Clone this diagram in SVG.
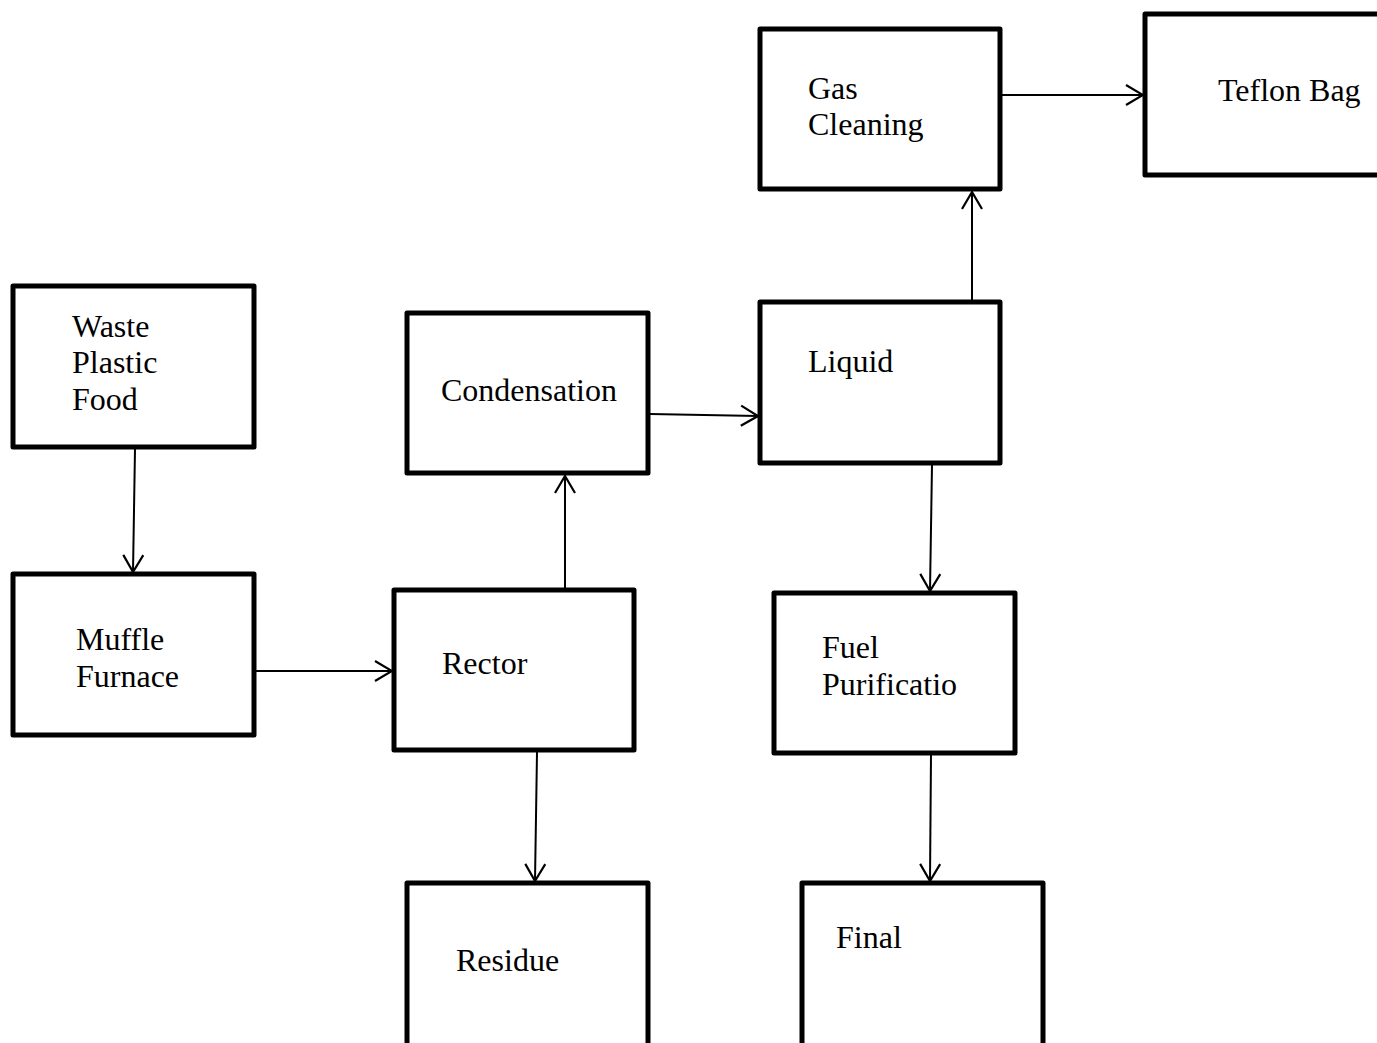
<svg xmlns="http://www.w3.org/2000/svg" width="1377" height="1043" viewBox="0 0 1377 1043">
<defs>
<style>
.box{fill:#fff;stroke:#000;stroke-width:5;stroke-linejoin:round}
.lbl{font-family:'Liberation Serif','Times New Roman',Times,'DejaVu Serif',serif;font-size:32px;fill:#000}
.cn{stroke:#000;stroke-width:2;fill:none;marker-end:url(#ah)}
</style>
<marker id="ah" markerUnits="userSpaceOnUse" markerWidth="24" markerHeight="24" viewBox="-22 -12 24 24" refX="0" refY="0" orient="auto">
<path d="M-17,-10 L0,0 L-17,10" fill="none" stroke="#000" stroke-width="2.2"/>
</marker>
</defs>
<rect width="1377" height="1043" fill="#fff"/>
<g id="connectors">
<line class="cn" x1="135" y1="449" x2="133" y2="572"/>
<line class="cn" x1="256" y1="671" x2="392" y2="671"/>
<line class="cn" x1="565" y1="588" x2="565" y2="476"/>
<line class="cn" x1="650" y1="414" x2="758" y2="416"/>
<line class="cn" x1="972" y1="300" x2="972" y2="192"/>
<line class="cn" x1="1002" y1="95" x2="1143" y2="95"/>
<line class="cn" x1="932" y1="465" x2="930" y2="591"/>
<line class="cn" x1="537" y1="752" x2="535" y2="881"/>
<line class="cn" x1="931" y1="755" x2="930" y2="881"/>
</g>
<g id="waste">
<rect class="box" x="13" y="286" width="241" height="161"/>
<text class="lbl" x="72" y="337">Waste</text>
<text class="lbl" x="72" y="373">Plastic</text>
<text class="lbl" x="72" y="410">Food</text>
</g>
<g id="muffle">
<rect class="box" x="13" y="574" width="241" height="161"/>
<text class="lbl" x="76" y="650">Muffle</text>
<text class="lbl" x="76" y="687">Furnace</text>
</g>
<g id="rector">
<rect class="box" x="394" y="590" width="240" height="160"/>
<text class="lbl" x="442" y="674">Rector</text>
</g>
<g id="condensation">
<rect class="box" x="407" y="313" width="241" height="160"/>
<text class="lbl" x="441" y="401">Condensation</text>
</g>
<g id="liquid">
<rect class="box" x="760" y="302" width="240" height="161"/>
<text class="lbl" x="808" y="372">Liquid</text>
</g>
<g id="gascleaning">
<rect class="box" x="760" y="29" width="240" height="160"/>
<text class="lbl" x="808" y="99">Gas</text>
<text class="lbl" x="808" y="135">Cleaning</text>
</g>
<g id="teflon">
<rect class="box" x="1145" y="14" width="240" height="161"/>
<text class="lbl" x="1218" y="101">Teflon Bag</text>
</g>
<g id="fuel">
<rect class="box" x="774" y="593" width="241" height="160"/>
<text class="lbl" x="822" y="658">Fuel</text>
<text class="lbl" x="822" y="695">Purificatio</text>
</g>
<g id="residue">
<rect class="box" x="407" y="883" width="241" height="170"/>
<text class="lbl" x="456" y="971">Residue</text>
</g>
<g id="final">
<rect class="box" x="802" y="883" width="241" height="170"/>
<text class="lbl" x="836" y="948">Final</text>
</g>
</svg>
